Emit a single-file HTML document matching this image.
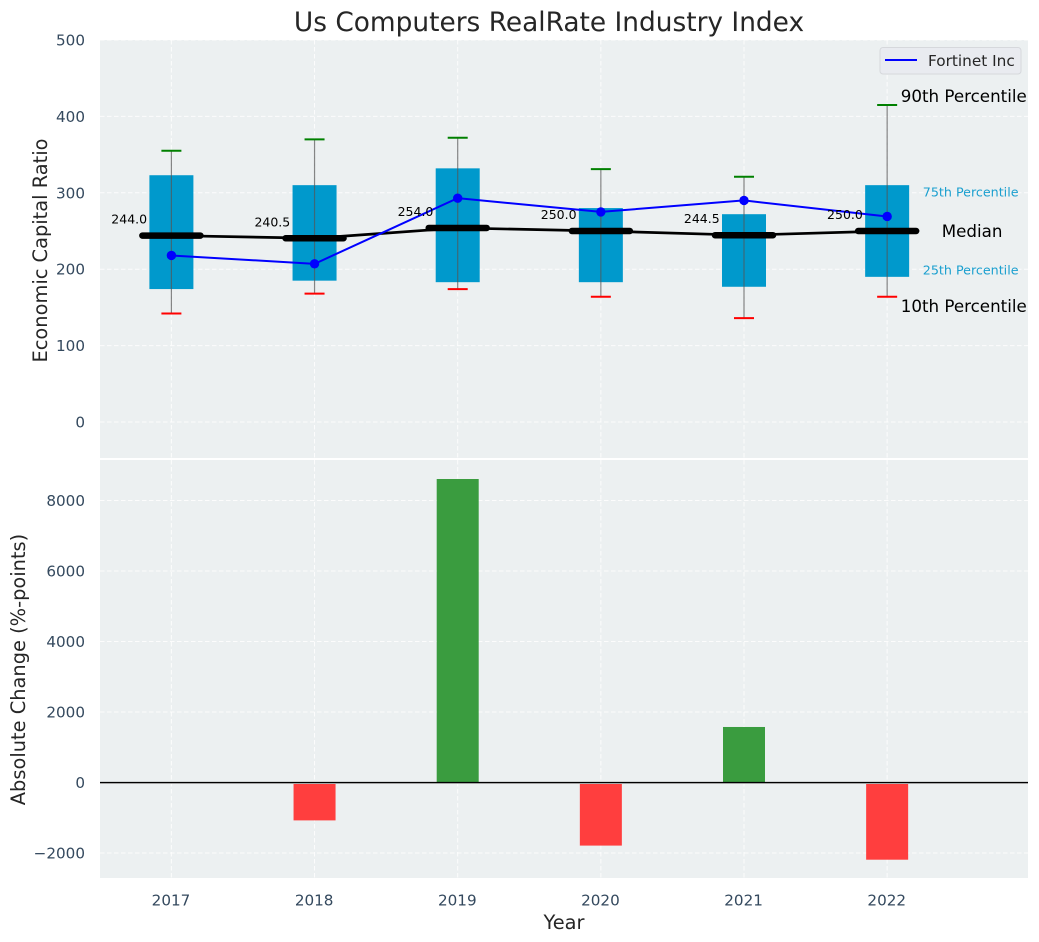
<!DOCTYPE html>
<html>
<head>
<meta charset="utf-8">
<title>Us Computers RealRate Industry Index</title>
<style>
html,body{margin:0;padding:0;background:#fff;width:1039px;height:942px;overflow:hidden}
svg{display:block;font-family:"DejaVu Sans","Liberation Sans",sans-serif}
</style>
</head>
<body>
<svg id="chart" xmlns="http://www.w3.org/2000/svg" width="1039" height="942" viewBox="0 0 1039 942">
  <rect x="100" y="40" width="928" height="418" fill="#ecf0f1"/>
  <rect x="100" y="460" width="928" height="418" fill="#ecf0f1"/>
  <g id="grid"></g>
  <g id="bars"></g>
  <g id="boxes"></g>
  <g id="lines"></g>
  <g id="labels"></g>
  <text x="549" y="31" text-anchor="middle" font-size="26.4px" fill="#262626">Us Computers RealRate Industry Index</text>
  <text transform="translate(47 250.5) rotate(-90)" text-anchor="middle" font-size="19.4px" fill="#262626">Economic Capital Ratio</text>
  <text transform="translate(25 669.5) rotate(-90)" text-anchor="middle" font-size="19.4px" fill="#262626">Absolute Change (%-points)</text>
  <text x="564" y="929" text-anchor="middle" font-size="19.4px" fill="#262626">Year</text>
  <g>
    <rect x="880" y="47.5" width="141" height="26.5" rx="3" fill="#e9ebf0" stroke="#d6d8dc" stroke-width="1"/>
    <line x1="885" y1="60" x2="917" y2="60" stroke="#0000ff" stroke-width="2"/>
    <text x="928" y="66" font-size="15.3px" fill="#262626">Fortinet Inc</text>
  </g>
</svg>
<script>
const years = [2017, 2018, 2019, 2020, 2021, 2022];
const p10 = [142, 168, 174, 164, 136, 164];
const q1 = [174, 185, 183, 183, 177, 190];
const medians = [244.0, 240.5, 254.0, 250.0, 244.5, 250.0];
const q3 = [323, 310, 332, 280, 272, 310];
const p90 = [355, 370, 372, 331, 321, 415];
const fortinet = [218, 207, 293, 275, 290, 269];
const changes = [0, -1075, 8610, -1790, 1575, -2190];
const topTicks = [0, 100, 200, 300, 400, 500];
const bottomTicks = [-2000, 0, 2000, 4000, 6000, 8000];

const NS = 'http://www.w3.org/2000/svg';
const xPos = v => 171.4 + (v - 2017) * 143.15;
const yTop = v => 422 - v * 0.764;
const yBottom = v => 782.5 - v * 0.03525;

function mk(parent, tag, attrs, text) {
  const el = document.createElementNS(NS, tag);
  for (const k in attrs) el.setAttribute(k, attrs[k]);
  if (text !== undefined) el.textContent = text;
  document.getElementById(parent).appendChild(el);
  return el;
}
function fmt(v) { return v < 0 ? '\u2212' + Math.abs(v) : String(v); }

const gridStyle = { stroke: '#ffffff', 'stroke-width': 1, 'stroke-dasharray': '4.5 2.5', opacity: 0.85 };

years.forEach(yr => {
  const x = xPos(yr);
  const a = mk('grid', 'line', Object.assign({ x1: x, x2: x, y1: 40, y2: 458 }, gridStyle));
  
  
  const b = mk('grid', 'line', Object.assign({ x1: x, x2: x, y1: 460, y2: 878 }, gridStyle));
  
  
  const t = mk('labels', 'text', { x: x - 0.4, y: 905.5, 'text-anchor': 'middle', 'font-size': '15.2px', fill: '#34495e' }, String(yr));
  
  
});

topTicks.forEach(v => {
  const y = yTop(v);
  const g = mk('grid', 'line', Object.assign({ x1: 100, x2: 1028, y1: y, y2: y }, gridStyle));
  
  
  const t = mk('labels', 'text', { x: 85, y: y + 5.5, 'text-anchor': 'end', 'font-size': '15.2px', fill: '#34495e' }, fmt(v));
  
  
});

bottomTicks.forEach(v => {
  const y = yBottom(v);
  const g = mk('grid', 'line', Object.assign({ x1: 100, x2: 1028, y1: y, y2: y }, gridStyle));
  
  
  const t = mk('labels', 'text', { x: 85, y: y + 5.5, 'text-anchor': 'end', 'font-size': '15.2px', fill: '#34495e' }, fmt(v));
  
  
});

years.forEach((yr, i) => {
  const x = xPos(yr);
  const y0 = yBottom(0), y1 = yBottom(changes[i]);
  if (changes[i] !== 0) {
    const bar = mk('bars', 'rect', { x: x - 21, y: Math.min(y0, y1), width: 42, height: Math.abs(y1 - y0), fill: changes[i] > 0 ? '#3a9c3f' : '#ff3e3e' });
    
    
  }
  const box = mk('boxes', 'rect', { x: x - 22, y: yTop(q3[i]), width: 44, height: yTop(q1[i]) - yTop(q3[i]), fill: '#0099cc' });
  
  
  const whisker = mk('boxes', 'line', { x1: x, x2: x, y1: yTop(p90[i]), y2: yTop(p10[i]), stroke: '#555555', 'stroke-width': 1.2, opacity: 0.7 });
  
  
  const capHi = mk('boxes', 'line', { x1: x - 10, x2: x + 10, y1: yTop(p90[i]), y2: yTop(p90[i]), stroke: '#008000', 'stroke-width': 2 });
  
  
  const capLo = mk('boxes', 'line', { x1: x - 10, x2: x + 10, y1: yTop(p10[i]), y2: yTop(p10[i]), stroke: '#ff0000', 'stroke-width': 2 });
  
  
});

const pts = (vals) => years.map((yr, i) => xPos(yr) + ',' + yTop(vals[i])).join(' ');

const medLine = mk('lines', 'polyline', { points: pts(medians), fill: 'none', stroke: '#000000', 'stroke-width': 2.7 });



years.forEach((yr, i) => {
  const x = xPos(yr), y = yTop(medians[i]);
  const seg = mk('lines', 'line', { x1: x - 29, x2: x + 29, y1: y, y2: y, stroke: '#000000', 'stroke-width': 6.5, 'stroke-linecap': 'round' });
  
  
});

const fLine = mk('lines', 'polyline', { points: pts(fortinet), fill: 'none', stroke: '#0000ff', 'stroke-width': 2 });



years.forEach((yr, i) => {
  const dot = mk('lines', 'circle', { cx: xPos(yr), cy: yTop(fortinet[i]), r: 4.7, fill: '#0000ff' });
  
  
  const lab = mk('labels', 'text', { x: xPos(yr) - 24.3, y: yTop(medians[i]) - 12, 'text-anchor': 'end', 'font-size': '12.5px', fill: '#000000' }, medians[i].toFixed(1));
  
  
});

const last = years.length - 1;
const lx = xPos(years[last]);
const a90 = mk('labels', 'text', { x: lx + 13.6, y: yTop(p90[last]) - 3, 'font-size': '16.7px', fill: '#000000' }, '90th Percentile');


const a75 = mk('labels', 'text', { x: lx + 35.6, y: yTop(q3[last]) + 11.5, 'font-size': '12.7px', fill: '#1a9fcf' }, '75th Percentile');


const aMed = mk('labels', 'text', { x: lx + 54.6, y: yTop(medians[last]) + 6, 'font-size': '16.7px', fill: '#000000' }, 'Median');


const a25 = mk('labels', 'text', { x: lx + 35.6, y: yTop(q1[last]) - 2.5, 'font-size': '12.7px', fill: '#1a9fcf' }, '25th Percentile');


const a10 = mk('labels', 'text', { x: lx + 13.6, y: yTop(p10[last]) + 15.5, 'font-size': '16.7px', fill: '#000000' }, '10th Percentile');



const zeroShadow = mk('labels', 'line', { x1: 100, x2: 1028, y1: yBottom(0) + 1, y2: yBottom(0) + 1, stroke: '#bbbbbb', 'stroke-width': 1 });


const zero = mk('labels', 'line', { x1: 100, x2: 1028, y1: yBottom(0), y2: yBottom(0), stroke: '#000000', 'stroke-width': 1.2 });


</script>
</body>
</html>
